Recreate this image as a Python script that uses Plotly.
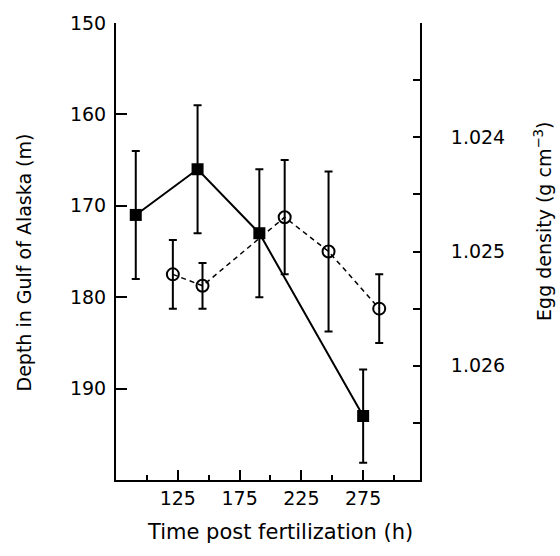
import plotly.graph_objects as go

# Depth (left axis), solid squares
time_depth = [91, 141, 191, 275]
depth_m = [171.0, 166.0, 173.0, 193.0]
depth_err = [7.0, 7.0, 7.0, 5.1]

# Egg density (right axis), open circles
time_density = [121, 145, 211.5, 247, 288]
density = [1.0252, 1.0253, 1.0247, 1.0250, 1.0255]
density_err = [0.0003, 0.0002, 0.0005, 0.0007, 0.0003]

x_major = [125, 175, 225, 275]
y_left_ticks = [150, 160, 170, 180, 190]
y_right_major = [1.024, 1.025, 1.026]
y_right_labels = ["1.024", "1.025", "1.026"]

FONT = "DejaVu Sans"

fig = go.Figure()

fig.add_trace(go.Scatter(
    x=time_density, y=density, yaxis="y2", mode="lines+markers",
    line=dict(color="black", width=1.5, dash="5px,4px"),
    marker=dict(symbol="circle-open", size=12, color="black", line=dict(width=2)),
    error_y=dict(type="data", array=density_err, visible=True, color="black",
                 thickness=2, width=4),
    showlegend=False,
))

fig.add_trace(go.Scatter(
    x=time_depth, y=depth_m, mode="lines+markers",
    line=dict(color="black", width=2),
    marker=dict(symbol="square", size=12, color="black"),
    error_y=dict(type="data", array=depth_err, visible=True, color="black",
                 thickness=2, width=4),
    showlegend=False,
))

fig.update_layout(
    width=560, height=556,
    margin=dict(l=116, r=140, t=20, b=76),
    paper_bgcolor="white", plot_bgcolor="white",
    font=dict(family=FONT, size=19, color="black"),
    xaxis=dict(
        range=[75, 321], showgrid=False, zeroline=False,
        showline=True, linecolor="black", linewidth=2,
        tickmode="array", tickvals=x_major, ticktext=[str(v) for v in x_major],
        ticks="inside", ticklen=10, tickwidth=2, tickcolor="black",
        minor=dict(tickmode="array", tickvals=[100, 150, 200, 250, 300],
                   ticks="inside", ticklen=5, tickwidth=2, tickcolor="black"),
        tickfont=dict(size=19),
    ),
    yaxis=dict(
        range=[200, 150], showgrid=False, zeroline=False,
        showline=True, linecolor="black", linewidth=2,
        tickmode="array", tickvals=y_left_ticks, ticktext=[str(v) for v in y_left_ticks],
        ticks="inside", ticklen=11, tickwidth=2, tickcolor="black",
        ticklabelstandoff=4,
        tickfont=dict(size=19),
    ),
    yaxis2=dict(
        range=[1.027, 1.023], overlaying="y", side="right",
        showgrid=False, zeroline=False,
        showline=True, linecolor="black", linewidth=2,
        tickmode="array", tickvals=y_right_major, ticktext=y_right_labels,
        ticks="inside", ticklen=7, tickwidth=2, tickcolor="black",
        minor=dict(tickmode="array", tickvals=[1.0235, 1.0245, 1.0255, 1.0265],
                   ticks="inside", ticklen=7, tickwidth=2, tickcolor="black"),
        ticklabelstandoff=25,
        tickfont=dict(size=19),
    ),
    annotations=[
        dict(text="Time post fertilization (h)", xref="paper", yref="paper",
             x=0.541, y=-0.113, xanchor="center", yanchor="middle",
             showarrow=False, font=dict(size=21)),
        dict(text="Depth in Gulf of Alaska (m)", xref="paper", yref="paper",
             x=-0.3026, y=0.476, xanchor="center", yanchor="middle",
             textangle=-90, showarrow=False, font=dict(size=19)),
        dict(text="Egg density (g cm<sup>−3</sup>)", xref="paper", yref="paper",
             x=1.405, y=0.565, xanchor="center", yanchor="middle",
             textangle=-90, showarrow=False, font=dict(size=19)),
    ],
)

fig.write_html("out.html")
